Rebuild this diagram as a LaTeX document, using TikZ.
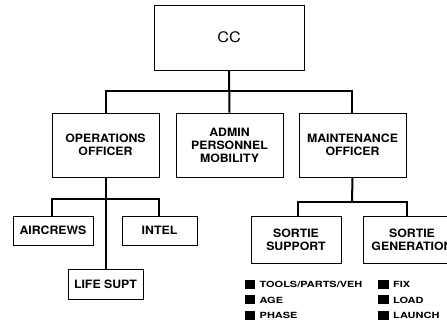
\documentclass[tikz,border=0pt]{standalone}
\usepackage{fontspec}
\setmainfont{TeX Gyre Heros}
\newfontfamily\boxfont[FakeStretch=1.07]{TeX Gyre Heros}
\newfontfamily\legfont[FakeStretch=1.29]{TeX Gyre Heros}
\newfontfamily\ccfont[FakeStretch=1.12]{TeX Gyre Heros}
\begin{document}
\begin{tikzpicture}[x=1pt,y=-1pt,
  box/.style={draw,line width=0.8pt,align=center,inner sep=0pt,font=\boxfont\bfseries\fontsize{11.5}{13}\selectfont},
  conn/.style={line width=2pt},
  sq/.style={fill=black,minimum width=10.5pt,minimum height=9pt,inner sep=0pt},
  lg/.style={anchor=west,inner sep=0pt,font=\legfont\bfseries\fontsize{8.5}{9}\selectfont}]
\clip (0,0) rectangle (447,326);
\useasboundingbox (0,0) rectangle (447,326);
\node[box,minimum width=150pt,minimum height=65pt,font=\ccfont\fontsize{14.5}{16}\selectfont] (cc) at (229,37.5) {CC};
\node[box,minimum width=107pt,minimum height=64pt] (ops) at (105.5,145) {OPERATIONS\\OFFICER};
\node[box,minimum width=107pt,minimum height=64pt] (adm) at (229.5,145) {ADMIN\\PERSONNEL\\MOBILITY};
\node[box,minimum width=107pt,minimum height=64pt] (mnt) at (352.5,145) {MAINTENANCE\\OFFICER};
\node[box,minimum width=80pt,minimum height=29pt] (air) at (53,230.5) {AIRCREWS};
\node[box,minimum width=75pt,minimum height=29pt] (intel) at (159.5,230.5) {INTEL};
\node[box,minimum width=75pt,minimum height=30pt] (life) at (105.5,284) {LIFE SUPT};
\node[box,minimum width=90pt,minimum height=47pt] (ss) at (296,239.5) {SORTIE\\SUPPORT};
\node[box,minimum width=98pt,minimum height=47pt] (sg) at (412,239.5) {SORTIE\\GENERATION};
\coordinate (busL) at (106,91);
\coordinate (busR) at (352,91);
\draw[conn] (cc.south) -- (adm.north);
\draw[conn] (ops.north -| busL) -- (busL) -- (busR) -- (mnt.north -| busR);
\coordinate (obL) at (52,199);
\coordinate (obR) at (159,199);
\draw[conn] (ops.south) -- (life.north);
\draw[conn] (air.north -| obL) -- (obL) -- (obR) -- (intel.north -| obR);
\coordinate (mbL) at (298,202);
\coordinate (mbR) at (407,202);
\coordinate (mbC) at (352,202);
\draw[conn] (mnt.south) -- (mbC);
\draw[conn] (ss.north -| mbL) -- (mbL) -- (mbR) -- (sg.north -| mbR);
\node[sq] (s1) at (250,284) {};
\node[sq] (s2) at (250,299.5) {};
\node[sq] (s3) at (250,315) {};
\node[lg] (t1) at (259.5,284.5) {TOOLS/PARTS/VEH};
\node[lg] (t2) at (259.5,300) {AGE};
\node[lg] (t3) at (259.5,315.5) {PHASE};
\node[sq] (s4) at (383.5,284) {};
\node[sq] (s5) at (383.5,299.5) {};
\node[sq] (s6) at (383.5,315) {};
\node[lg] (t4) at (393,284.5) {FIX};
\node[lg] (t5) at (393,300) {LOAD};
\node[lg] (t6) at (393,315.5) {LAUNCH};
\end{tikzpicture}
\end{document}
